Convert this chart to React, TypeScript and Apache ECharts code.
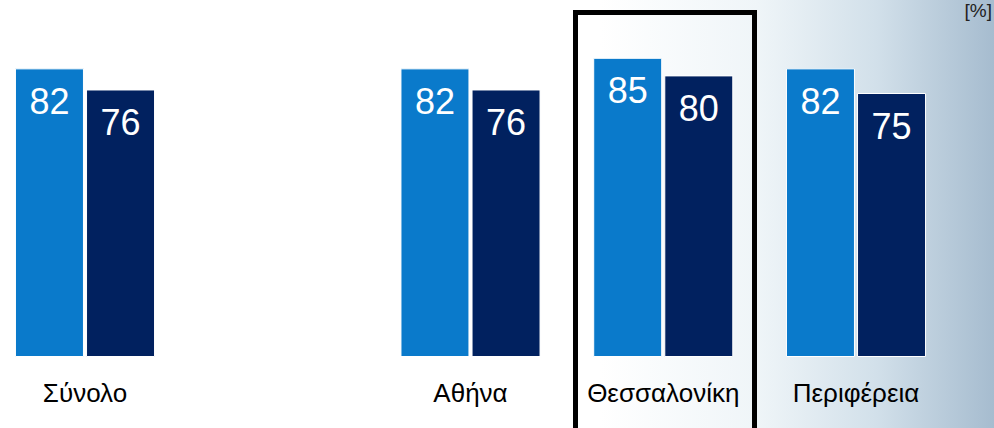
import React, { useEffect, useRef } from "react";
import * as echarts from "echarts";

const categories = ["Σύνολο", "", "Αθήνα", "Θεσσαλονίκη", "Περιφέρεια"];
const seriesA = [82, null, 82, 85, 82];
const seriesB = [76, null, 76, 80, 75];
const unitLabel = "[%]";

const FONT = "'Liberation Sans', Arial, sans-serif";

export default function App() {
  const ref = useRef<HTMLDivElement>(null);
  useEffect(() => {
    if (!ref.current) return;
    const chart = echarts.init(ref.current, undefined, { renderer: "svg" });
    const label = {
      show: true,
      position: "insideTop",
      distance: 15,
      color: "#ffffff",
      fontSize: 36,
      fontFamily: FONT,
    };
    chart.setOption({
      animation: false,
      backgroundColor: "#ffffff",
      grid: { left: 85, width: 771, top: 5, bottom: 71, containLabel: false },
      xAxis: {
        type: "category",
        data: categories,
        boundaryGap: false,
        axisLine: { show: false },
        axisTick: { show: false },
        splitLine: { show: false },
        axisLabel: { color: "#000000", fontSize: 26, fontFamily: FONT, margin: 23, interval: 0 },
      },
      yAxis: { type: "value", min: 0, max: 100, show: false },
      graphic: [
        {
          type: "rect",
          z: -10,
          silent: true,
          shape: { x: 600, y: 0, width: 394, height: 428 },
          style: {
            fill: new echarts.graphic.LinearGradient(0, 0, 1, 0, [
              { offset: 0, color: "#ffffff" },
              { offset: 0.4, color: "#eff5f8" },
              { offset: 0.7, color: "#d2e0ea" },
              { offset: 1, color: "#a6bccf" },
            ]),
          },
        },
        {
          type: "rect",
          z: 10,
          silent: true,
          shape: { x: 575.5, y: 12.5, width: 179, height: 430 },
          style: { fill: "none", stroke: "#000000", lineWidth: 5 },
        },
        {
          type: "text",
          z: 10,
          right: 2,
          top: 1,
          style: { text: unitLabel, fill: "#222222", fontSize: 19, fontFamily: FONT },
        },
      ],
      series: [
        {
          type: "bar",
          data: seriesA,
          barWidth: 69,
          barGap: "3%",
          itemStyle: { color: "#0a7acb", borderColor: "#ffffff", borderWidth: 1 },
          label,
        },
        {
          type: "bar",
          data: seriesB,
          barWidth: 69,
          barGap: "3%",
          itemStyle: { color: "#01215f", borderColor: "#ffffff", borderWidth: 1 },
          label,
        },
      ],
    });
    return () => chart.dispose();
  }, []);
  return (
    <div
      ref={ref}
      style={{ position: "absolute", left: 0, top: 0, width: 994, height: 428 }}
    />
  );
}
